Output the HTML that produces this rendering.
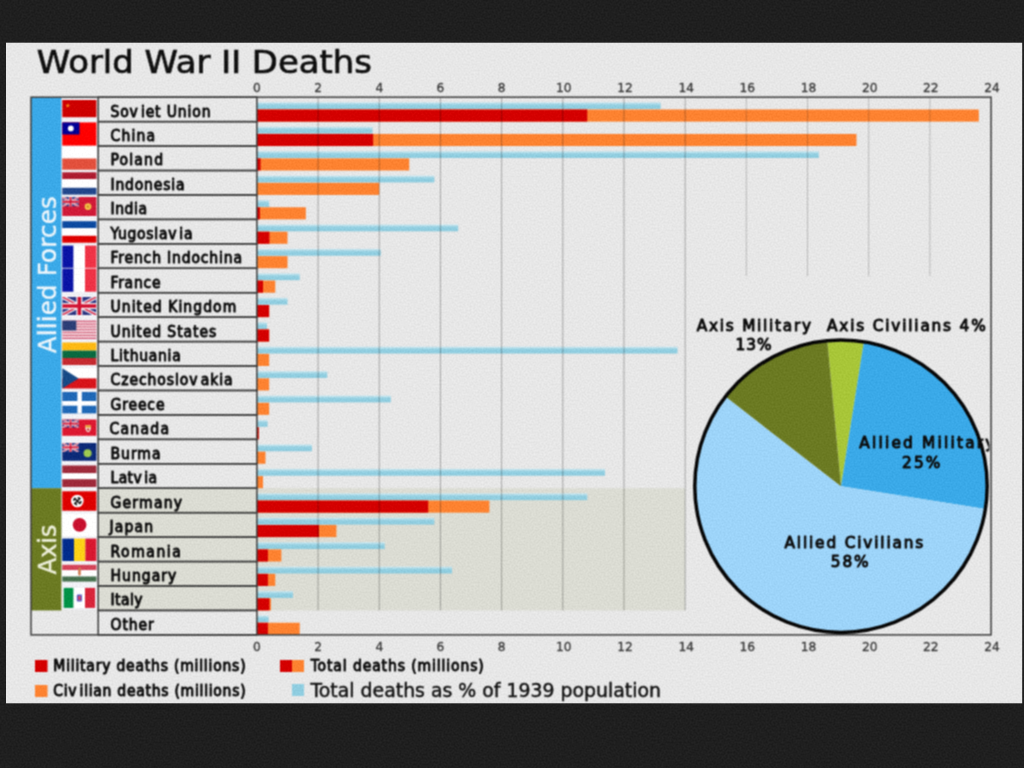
<!DOCTYPE html>
<html lang="en"><head><meta charset="utf-8"><title>World War II Deaths</title>
<style>
html,body{margin:0;padding:0;background:#1f1f1f;width:1024px;height:768px;overflow:hidden}
svg{display:block}
text{font-family:"DejaVu Sans","Liberation Sans",sans-serif}
.lab,.leg,.pie{font-family:"DejaVu Sans Condensed","DejaVu Sans","Liberation Sans",sans-serif;font-stretch:condensed;font-size:15.5px;fill:#0c0c0c;stroke:#0c0c0c;stroke-width:.95px;stroke-linejoin:round}
.tick{font-size:12.2px;fill:#383838;stroke:#383838;stroke-width:.3px;text-anchor:middle}
.pie{font-family:"DejaVu Sans","Liberation Sans",sans-serif;font-stretch:normal;font-size:15.3px;stroke-width:1px}
</style></head><body>
<svg width="1024" height="768" viewBox="0 0 1024 768">
<defs><linearGradient id="pg" x1="0" y1="0" x2="0" y2="1"><stop offset="0" stop-color="#cfe8f0"/><stop offset=".42" stop-color="#93cfe1"/><stop offset="1" stop-color="#8ccbde"/></linearGradient><filter id="bl" color-interpolation-filters="sRGB" x="-2%" y="-2%" width="104%" height="104%"><feConvolveMatrix order="3" kernelMatrix="1 2 1 2 4 2 1 2 1" divisor="16" edgeMode="duplicate" preserveAlpha="false"/></filter></defs>
<filter id="nz" color-interpolation-filters="sRGB" x="0" y="0" width="100%" height="100%"><feTurbulence type="fractalNoise" baseFrequency="0.5" numOctaves="2" seed="7" result="t"/><feColorMatrix in="t" type="matrix" values="1 0 0 0 0 1 0 0 0 0 1 0 0 0 0 0 0 0 0 1" result="g"/><feComposite in="SourceGraphic" in2="g" operator="arithmetic" k1="0" k2="1" k3="0.07" k4="-0.035"/></filter>
<g filter="url(#nz)">
<rect x="0" y="0" width="1024" height="768" fill="#1f1f1f"/>
<rect x="6" y="42.7" width="1016.2" height="660.6" fill="#e7e7e7"/>
<g filter="url(#bl)">
<text x="36.8" y="72.5" font-size="32.2" fill="#0e0e0e" stroke="#0e0e0e" stroke-width=".7" textLength="335" lengthAdjust="spacingAndGlyphs">World War II Deaths</text>
<rect x="256.9" y="488.24" width="428.26" height="122.2" fill="#dbdcd3"/>
<rect x="98" y="488.24" width="158.9" height="122.2" fill="#dbdcd3"/>
<rect x="31" y="97.2" width="30.5" height="391.04" fill="#3aa9e8"/>
<rect x="31" y="488.24" width="30.5" height="122.2" fill="#6b7a22"/>
<text transform="translate(55.7,353.3) rotate(-90)" font-size="24.5" fill="#eef6fb" stroke="#eef6fb" stroke-width=".4" textLength="157" lengthAdjust="spacing">Allied Forces</text>
<text transform="translate(55.6,574.5) rotate(-90)" font-size="24.5" fill="#eef0dc" stroke="#eef0dc" stroke-width=".4" textLength="50" lengthAdjust="spacing">Axis</text>
<rect x="256.9" y="102.2" width="403.79" height="6.9" fill="url(#pg)"/>
<rect x="256.9" y="109.5" width="721.92" height="12.1" fill="#fd8230"/>
<rect x="256.9" y="109.5" width="330.37" height="12.1" fill="#d40000"/>
<rect x="256.9" y="126.64" width="115.63" height="6.9" fill="url(#pg)"/>
<rect x="256.9" y="133.94" width="599.56" height="12.1" fill="#fd8230"/>
<rect x="256.9" y="133.94" width="116.24" height="12.1" fill="#d40000"/>
<rect x="256.9" y="151.08" width="561.94" height="6.9" fill="url(#pg)"/>
<rect x="256.9" y="158.38" width="152.34" height="12.1" fill="#fd8230"/>
<rect x="256.9" y="158.38" width="3.67" height="12.1" fill="#d40000"/>
<rect x="256.9" y="175.52" width="177.42" height="6.9" fill="url(#pg)"/>
<rect x="256.9" y="182.82" width="122.36" height="12.1" fill="#fd8230"/>
<rect x="256.9" y="199.96" width="12.24" height="6.9" fill="url(#pg)"/>
<rect x="256.9" y="207.26" width="48.94" height="12.1" fill="#fd8230"/>
<rect x="256.9" y="207.26" width="3.06" height="12.1" fill="#d40000"/>
<rect x="256.9" y="224.4" width="201.28" height="6.9" fill="url(#pg)"/>
<rect x="256.9" y="231.7" width="30.59" height="12.1" fill="#fd8230"/>
<rect x="256.9" y="231.7" width="12.54" height="12.1" fill="#d40000"/>
<rect x="256.9" y="248.84" width="123.89" height="6.9" fill="url(#pg)"/>
<rect x="256.9" y="256.14" width="30.59" height="12.1" fill="#fd8230"/>
<rect x="256.9" y="273.28" width="42.83" height="6.9" fill="url(#pg)"/>
<rect x="256.9" y="280.58" width="18.35" height="12.1" fill="#fd8230"/>
<rect x="256.9" y="280.58" width="6.12" height="12.1" fill="#d40000"/>
<rect x="256.9" y="297.72" width="30.59" height="6.9" fill="url(#pg)"/>
<rect x="256.9" y="305.02" width="12.24" height="12.1" fill="#fd8230"/>
<rect x="256.9" y="305.02" width="12.24" height="12.1" fill="#d40000"/>
<rect x="256.9" y="322.16" width="10.09" height="6.9" fill="url(#pg)"/>
<rect x="256.9" y="329.46" width="12.24" height="12.1" fill="#fd8230"/>
<rect x="256.9" y="329.46" width="12.24" height="12.1" fill="#d40000"/>
<rect x="256.9" y="346.6" width="420.61" height="6.9" fill="url(#pg)"/>
<rect x="256.9" y="353.9" width="12.24" height="12.1" fill="#fd8230"/>
<rect x="256.9" y="371.04" width="70.36" height="6.9" fill="url(#pg)"/>
<rect x="256.9" y="378.34" width="12.24" height="12.1" fill="#fd8230"/>
<rect x="256.9" y="395.48" width="133.98" height="6.9" fill="url(#pg)"/>
<rect x="256.9" y="402.78" width="12.24" height="12.1" fill="#fd8230"/>
<rect x="256.9" y="419.92" width="10.71" height="6.9" fill="url(#pg)"/>
<rect x="256.9" y="427.22" width="1.84" height="12.1" fill="#fd8230"/>
<rect x="256.9" y="427.22" width="1.84" height="12.1" fill="#d40000"/>
<rect x="256.9" y="444.36" width="55.06" height="6.9" fill="url(#pg)"/>
<rect x="256.9" y="451.66" width="8.57" height="12.1" fill="#fd8230"/>
<rect x="256.9" y="468.8" width="348.11" height="6.9" fill="url(#pg)"/>
<rect x="256.9" y="476.1" width="6.12" height="12.1" fill="#fd8230"/>
<rect x="256.9" y="493.24" width="330.37" height="6.9" fill="url(#pg)"/>
<rect x="256.9" y="500.54" width="232.48" height="12.1" fill="#fd8230"/>
<rect x="256.9" y="500.54" width="171.3" height="12.1" fill="#d40000"/>
<rect x="256.9" y="517.68" width="177.42" height="6.9" fill="url(#pg)"/>
<rect x="256.9" y="524.98" width="79.53" height="12.1" fill="#fd8230"/>
<rect x="256.9" y="524.98" width="62.1" height="12.1" fill="#d40000"/>
<rect x="256.9" y="542.12" width="127.87" height="6.9" fill="url(#pg)"/>
<rect x="256.9" y="549.42" width="24.47" height="12.1" fill="#fd8230"/>
<rect x="256.9" y="549.42" width="11.01" height="12.1" fill="#d40000"/>
<rect x="256.9" y="566.56" width="195.16" height="6.9" fill="url(#pg)"/>
<rect x="256.9" y="573.86" width="18.35" height="12.1" fill="#fd8230"/>
<rect x="256.9" y="573.86" width="11.01" height="12.1" fill="#d40000"/>
<rect x="256.9" y="591" width="36.1" height="6.9" fill="url(#pg)"/>
<rect x="256.9" y="598.3" width="14.07" height="12.1" fill="#fd8230"/>
<rect x="256.9" y="598.3" width="12.54" height="12.1" fill="#d40000"/>
<rect x="256.9" y="615.44" width="11.62" height="6.9" fill="url(#pg)"/>
<rect x="256.9" y="622.74" width="42.83" height="12.1" fill="#fd8230"/>
<rect x="256.9" y="622.74" width="11.01" height="12.1" fill="#d40000"/>
<line x1="318.08" y1="97.2" x2="318.08" y2="610.44" stroke="#000" stroke-opacity=".29" stroke-width="1"/>
<line x1="379.26" y1="97.2" x2="379.26" y2="610.44" stroke="#000" stroke-opacity=".29" stroke-width="1"/>
<line x1="440.44" y1="97.2" x2="440.44" y2="610.44" stroke="#000" stroke-opacity=".29" stroke-width="1"/>
<line x1="501.62" y1="97.2" x2="501.62" y2="610.44" stroke="#000" stroke-opacity=".29" stroke-width="1"/>
<line x1="562.8" y1="97.2" x2="562.8" y2="610.44" stroke="#000" stroke-opacity=".29" stroke-width="1"/>
<line x1="623.98" y1="97.2" x2="623.98" y2="610.44" stroke="#000" stroke-opacity=".29" stroke-width="1"/>
<line x1="685.16" y1="97.2" x2="685.16" y2="610.44" stroke="#000" stroke-opacity=".29" stroke-width="1"/>
<line x1="746.34" y1="97.2" x2="746.34" y2="276" stroke="#000" stroke-opacity=".2" stroke-width="1"/>
<line x1="807.52" y1="97.2" x2="807.52" y2="276" stroke="#000" stroke-opacity=".2" stroke-width="1"/>
<line x1="868.7" y1="97.2" x2="868.7" y2="276" stroke="#000" stroke-opacity=".2" stroke-width="1"/>
<line x1="929.88" y1="97.2" x2="929.88" y2="276" stroke="#000" stroke-opacity=".2" stroke-width="1"/>
<rect x="98.2" y="97.2" width="158.7" height="24.44" fill="none" stroke="#3c3c3c" stroke-width="1.5"/>
<text class="lab" x="110.5" y="116.6" textLength="100" lengthAdjust="spacing">Sov<tspan dx="2.2">iet</tspan> Union</text>
<rect x="98.2" y="121.64" width="158.7" height="24.44" fill="none" stroke="#3c3c3c" stroke-width="1.5"/>
<text class="lab" x="110.5" y="141.04" textLength="44.5" lengthAdjust="spacing">China</text>
<rect x="98.2" y="146.08" width="158.7" height="24.44" fill="none" stroke="#3c3c3c" stroke-width="1.5"/>
<text class="lab" x="110.5" y="165.48" textLength="52.5" lengthAdjust="spacing">Poland</text>
<rect x="98.2" y="170.52" width="158.7" height="24.44" fill="none" stroke="#3c3c3c" stroke-width="1.5"/>
<text class="lab" x="110.5" y="189.92" textLength="74" lengthAdjust="spacing">Indonesia</text>
<rect x="98.2" y="194.96" width="158.7" height="24.44" fill="none" stroke="#3c3c3c" stroke-width="1.5"/>
<text class="lab" x="110.5" y="214.36" textLength="36.5" lengthAdjust="spacing">India</text>
<rect x="98.2" y="219.4" width="158.7" height="24.44" fill="none" stroke="#3c3c3c" stroke-width="1.5"/>
<text class="lab" x="110.5" y="238.8" textLength="82" lengthAdjust="spacing">Yugoslav<tspan dx="2.2">ia</tspan></text>
<rect x="98.2" y="243.84" width="158.7" height="24.44" fill="none" stroke="#3c3c3c" stroke-width="1.5"/>
<text class="lab" x="110.5" y="263.24" textLength="131.5" lengthAdjust="spacing">French Indochina</text>
<rect x="98.2" y="268.28" width="158.7" height="24.44" fill="none" stroke="#3c3c3c" stroke-width="1.5"/>
<text class="lab" x="110.5" y="287.68" textLength="50" lengthAdjust="spacing">France</text>
<rect x="98.2" y="292.72" width="158.7" height="24.44" fill="none" stroke="#3c3c3c" stroke-width="1.5"/>
<text class="lab" x="110.5" y="312.12" textLength="125.75" lengthAdjust="spacing">United Kingdom</text>
<rect x="98.2" y="317.16" width="158.7" height="24.44" fill="none" stroke="#3c3c3c" stroke-width="1.5"/>
<text class="lab" x="110.5" y="336.56" textLength="105.75" lengthAdjust="spacing">United States</text>
<rect x="98.2" y="341.6" width="158.7" height="24.44" fill="none" stroke="#3c3c3c" stroke-width="1.5"/>
<text class="lab" x="110.5" y="361" textLength="70.25" lengthAdjust="spacing">Lithuania</text>
<rect x="98.2" y="366.04" width="158.7" height="24.44" fill="none" stroke="#3c3c3c" stroke-width="1.5"/>
<text class="lab" x="110.5" y="385.44" textLength="122" lengthAdjust="spacing">Czechoslov<tspan dx="2.4">akia</tspan></text>
<rect x="98.2" y="390.48" width="158.7" height="24.44" fill="none" stroke="#3c3c3c" stroke-width="1.5"/>
<text class="lab" x="110.5" y="409.88" textLength="54" lengthAdjust="spacing">Greece</text>
<rect x="98.2" y="414.92" width="158.7" height="24.44" fill="none" stroke="#3c3c3c" stroke-width="1.5"/>
<text class="lab" x="109.5" y="434.32" textLength="59.5" lengthAdjust="spacing">Canada</text>
<rect x="98.2" y="439.36" width="158.7" height="24.44" fill="none" stroke="#3c3c3c" stroke-width="1.5"/>
<text class="lab" x="110.5" y="458.76" textLength="50" lengthAdjust="spacing">Burma</text>
<rect x="98.2" y="463.8" width="158.7" height="24.44" fill="none" stroke="#3c3c3c" stroke-width="1.5"/>
<text class="lab" x="110.5" y="483.2" textLength="46.5" lengthAdjust="spacing">Latv<tspan dx="2.2">ia</tspan></text>
<rect x="98.2" y="488.24" width="158.7" height="24.44" fill="none" stroke="#3c3c3c" stroke-width="1.5"/>
<text class="lab" x="110.5" y="507.64" textLength="71.5" lengthAdjust="spacing">Germany</text>
<rect x="98.2" y="512.68" width="158.7" height="24.44" fill="none" stroke="#3c3c3c" stroke-width="1.5"/>
<text class="lab" x="109.5" y="532.08" textLength="43.5" lengthAdjust="spacing">Japan</text>
<rect x="98.2" y="537.12" width="158.7" height="24.44" fill="none" stroke="#3c3c3c" stroke-width="1.5"/>
<text class="lab" x="110.5" y="556.52" textLength="70.25" lengthAdjust="spacing">Romania</text>
<rect x="98.2" y="561.56" width="158.7" height="24.44" fill="none" stroke="#3c3c3c" stroke-width="1.5"/>
<text class="lab" x="110.5" y="580.96" textLength="65.75" lengthAdjust="spacing">Hungary</text>
<rect x="98.2" y="586" width="158.7" height="24.44" fill="none" stroke="#3c3c3c" stroke-width="1.5"/>
<text class="lab" x="110.5" y="605.4" textLength="32" lengthAdjust="spacing">Italy</text>
<rect x="98.2" y="610.44" width="158.7" height="24.44" fill="none" stroke="#3c3c3c" stroke-width="1.5"/>
<text class="lab" x="110.5" y="629.84" textLength="43.25" lengthAdjust="spacing">Other</text>
<rect x="31" y="97.2" width="960.06" height="537.68" fill="none" stroke="#3c3c3c" stroke-width="1.5"/>
<text class="tick" x="256.9" y="92.4">0</text>
<text class="tick" x="256.9" y="651.2">0</text>
<text class="tick" x="318.08" y="92.4">2</text>
<text class="tick" x="318.08" y="651.2">2</text>
<text class="tick" x="379.26" y="92.4">4</text>
<text class="tick" x="379.26" y="651.2">4</text>
<text class="tick" x="440.44" y="92.4">6</text>
<text class="tick" x="440.44" y="651.2">6</text>
<text class="tick" x="501.62" y="92.4">8</text>
<text class="tick" x="501.62" y="651.2">8</text>
<text class="tick" x="563.8" y="92.4">10</text>
<text class="tick" x="563.8" y="651.2">10</text>
<text class="tick" x="624.98" y="92.4">12</text>
<text class="tick" x="624.98" y="651.2">12</text>
<text class="tick" x="686.16" y="92.4">14</text>
<text class="tick" x="686.16" y="651.2">14</text>
<text class="tick" x="747.34" y="92.4">16</text>
<text class="tick" x="747.34" y="651.2">16</text>
<text class="tick" x="808.52" y="92.4">18</text>
<text class="tick" x="808.52" y="651.2">18</text>
<text class="tick" x="869.7" y="92.4">20</text>
<text class="tick" x="869.7" y="651.2">20</text>
<text class="tick" x="930.88" y="92.4">22</text>
<text class="tick" x="930.88" y="651.2">22</text>
<text class="tick" x="992.06" y="92.4">24</text>
<text class="tick" x="992.06" y="651.2">24</text>
<rect x="35" y="660" width="12.5" height="12" fill="#d40000"/>
<text class="leg" x="53.3" y="671.3" textLength="192.3" lengthAdjust="spacing">Military deaths (millions)</text>
<rect x="35" y="685" width="12.5" height="12" fill="#fd8230"/>
<text class="leg" x="53.3" y="696.3" textLength="192.3" lengthAdjust="spacing">Civ<tspan dx="2.2">ilian deaths (millions)</tspan></text>
<rect x="280" y="660" width="12" height="12" fill="#d40000"/><rect x="292" y="660" width="12" height="12" fill="#fd8230"/>
<text class="leg" x="310.8" y="671.3" textLength="173" lengthAdjust="spacing">Total deaths (millions)</text>
<rect x="292" y="684" width="12" height="12" fill="#8fcde0"/>
<text x="310.5" y="697" font-size="18.9" fill="#101010" stroke="#101010" stroke-width=".45" textLength="350.5" lengthAdjust="spacing">Total deaths as % of 1939 population</text>
<path d="M841 486.2L827.2 340.6A146.2 146.2 0 0 1 863.9 341.8Z" fill="#a8c638"/>
<path d="M841 486.2L863.9 341.8A146.2 146.2 0 0 1 985.4 509.1Z" fill="#3aa9e8"/>
<path d="M841 486.2L985.4 509.1A146.2 146.2 0 1 1 725.5 396.6Z" fill="#9dd4f9"/>
<path d="M841 486.2L725.5 396.6A146.2 146.2 0 0 1 827.2 340.6Z" fill="#6b7a22"/>
<circle cx="841" cy="486.2" r="146.2" fill="none" stroke="#060606" stroke-width="3.5"/>
<text class="pie" x="696.8" y="330.6" textLength="114.2" lengthAdjust="spacing">Axis Military</text>
<text class="pie" x="735.5" y="349.5" textLength="36" lengthAdjust="spacing">13%</text>
<text class="pie" x="827" y="330.6" textLength="158.7" lengthAdjust="spacing">Axis Civilians 4%</text>
<clipPath id="pc"><rect x="700" y="420" width="289.3" height="60"/></clipPath>
<text class="pie" x="859.3" y="448.3" textLength="135" lengthAdjust="spacing" clip-path="url(#pc)">Allied Military</text>
<text class="pie" x="902" y="468.4" textLength="38.4" lengthAdjust="spacing">25%</text>
<text class="pie" x="784.5" y="547.6" textLength="138.8" lengthAdjust="spacing">Allied Civilians</text>
<text class="pie" x="830.8" y="567" textLength="37.7" lengthAdjust="spacing">58%</text>
<rect x="61.7" y="98" width="35.1" height="511.5" fill="#f1f1f5"/>
<rect x="62.3" y="100" width="34.1" height="17.2" fill="#cd0000"/>
<circle cx="67.8" cy="105.6" r="1.7" fill="#f07810"/>
<rect x="62.3" y="122.4" width="34.1" height="23.2" fill="#fe0000"/>
<rect x="62.3" y="122.4" width="17.2" height="12.1" fill="#000095"/>
<circle cx="70.8" cy="128.4" r="2.9" fill="#ffffff"/>
<rect x="62.3" y="146.6" width="34.1" height="11.9" fill="#ffffff"/><rect x="62.3" y="158.5" width="34.1" height="11.2" fill="#e2503c"/>
<rect x="62.3" y="172.3" width="34.1" height="6.9" fill="#ae1c30"/><rect x="62.3" y="179.2" width="34.1" height="8.6" fill="#ffffff"/><rect x="62.3" y="187.8" width="34.1" height="6.8" fill="#21468b"/>
<rect x="62.3" y="197" width="34.1" height="19" fill="#d01a38"/>
<g clip-path="url(#c1970)"><clipPath id="c1970"><rect x="62.3" y="197" width="16.5" height="9.5"/></clipPath><rect x="62.3" y="197" width="16.5" height="9.5" fill="#2b3580"/><path d="M62.3 197L78.8 206.5M78.8 197L62.3 206.5" stroke="#f4f0f4" stroke-width="2.09"/><path d="M62.3 197L78.8 206.5M78.8 197L62.3 206.5" stroke="#d02040" stroke-width="0.76"/><path d="M70.55 197V206.5M62.3 201.75H78.8" stroke="#f8f4f6" stroke-width="3.23"/><path d="M70.55 197V206.5M62.3 201.75H78.8" stroke="#d01030" stroke-width="1.9"/></g>
<circle cx="88" cy="206.6" r="3.4" fill="#f2c64a"/><circle cx="88" cy="206.6" r="1.5" fill="#d8902a"/>
<rect x="62.3" y="221.2" width="34.1" height="7" fill="#0c4aa0"/><rect x="62.3" y="228.2" width="34.1" height="7.6" fill="#ffffff"/><rect x="62.3" y="235.8" width="34.1" height="6.9" fill="#de0000"/>
<rect x="62.3" y="245.6" width="11.3" height="22.2" fill="#0a14a6"/><rect x="73.6" y="245.6" width="11.4" height="22.2" fill="#ffffff"/><rect x="85" y="245.6" width="11.4" height="22.2" fill="#ef3346"/>
<rect x="62.3" y="268.6" width="11.3" height="23.1" fill="#0a14a6"/><rect x="73.6" y="268.6" width="11.4" height="23.1" fill="#ffffff"/><rect x="85" y="268.6" width="11.4" height="23.1" fill="#ef3346"/>
<g clip-path="url(#c2969)"><clipPath id="c2969"><rect x="62.3" y="296.9" width="34.1" height="18.1"/></clipPath><rect x="62.3" y="296.9" width="34.1" height="18.1" fill="#2b3580"/><path d="M62.3 296.9L96.4 315M96.4 296.9L62.3 315" stroke="#f4f0f4" stroke-width="3.98"/><path d="M62.3 296.9L96.4 315M96.4 296.9L62.3 315" stroke="#d02040" stroke-width="1.45"/><path d="M79.35 296.9V315M62.3 305.95H96.4" stroke="#f8f4f6" stroke-width="6.15"/><path d="M79.35 296.9V315M62.3 305.95H96.4" stroke="#d01030" stroke-width="3.62"/></g>
<rect x="62.3" y="320.6" width="34.1" height="1.47" fill="#d4607a"/><rect x="62.3" y="322.02" width="34.1" height="1.47" fill="#f6dfe4"/><rect x="62.3" y="323.43" width="34.1" height="1.47" fill="#d4607a"/><rect x="62.3" y="324.85" width="34.1" height="1.47" fill="#f6dfe4"/><rect x="62.3" y="326.26" width="34.1" height="1.47" fill="#d4607a"/><rect x="62.3" y="327.68" width="34.1" height="1.47" fill="#f6dfe4"/><rect x="62.3" y="329.09" width="34.1" height="1.47" fill="#d4607a"/><rect x="62.3" y="330.51" width="34.1" height="1.47" fill="#f6dfe4"/><rect x="62.3" y="331.92" width="34.1" height="1.47" fill="#d4607a"/><rect x="62.3" y="333.34" width="34.1" height="1.47" fill="#f6dfe4"/><rect x="62.3" y="334.75" width="34.1" height="1.47" fill="#d4607a"/><rect x="62.3" y="336.17" width="34.1" height="1.47" fill="#f6dfe4"/><rect x="62.3" y="337.58" width="34.1" height="1.47" fill="#d4607a"/>
<rect x="62.3" y="320.6" width="14" height="9.9" fill="#2c3e76"/>
<rect x="62.3" y="342.5" width="34.1" height="8.1" fill="#fdb913"/><rect x="62.3" y="350.6" width="34.1" height="7.4" fill="#0a6a40"/><rect x="62.3" y="358" width="34.1" height="7" fill="#c52a30"/>
<rect x="62.3" y="368.3" width="34.1" height="10.1" fill="#ffffff"/><rect x="62.3" y="378.4" width="34.1" height="10.1" fill="#d7141a"/>
<path d="M62.3 368.3L78.6 378.4L62.3 388.5Z" fill="#174a86"/>
<rect x="62.3" y="392" width="34.1" height="21.4" fill="#1f68b6"/>
<rect x="77.4" y="392" width="4.4" height="21.4" fill="#ffffff"/><rect x="62.3" y="401" width="34.1" height="4.7" fill="#ffffff"/>
<rect x="62.3" y="419.5" width="34.1" height="16.3" fill="#dc1830"/>
<g clip-path="url(#c4195)"><clipPath id="c4195"><rect x="62.3" y="419.5" width="16.5" height="8.2"/></clipPath><rect x="62.3" y="419.5" width="16.5" height="8.2" fill="#2b3580"/><path d="M62.3 419.5L78.8 427.7M78.8 419.5L62.3 427.7" stroke="#f4f0f4" stroke-width="1.8"/><path d="M62.3 419.5L78.8 427.7M78.8 419.5L62.3 427.7" stroke="#d02040" stroke-width="0.66"/><path d="M70.55 419.5V427.7M62.3 423.6H78.8" stroke="#f8f4f6" stroke-width="2.79"/><path d="M70.55 419.5V427.7M62.3 423.6H78.8" stroke="#d01030" stroke-width="1.64"/></g>
<path d="M85.4 425.2h5.4v3.4q0 2.6 -2.7 3.6q-2.7 -1 -2.7 -3.6z" fill="#f4efe6"/><rect x="85.4" y="425.2" width="5.4" height="2.4" fill="#e8a030"/><circle cx="88.1" cy="429.6" r="1.2" fill="#c82020"/>
<rect x="62.3" y="443" width="34.1" height="17.8" fill="#0c2a78"/>
<g clip-path="url(#c4430)"><clipPath id="c4430"><rect x="62.3" y="443" width="16.5" height="8.9"/></clipPath><rect x="62.3" y="443" width="16.5" height="8.9" fill="#2b3580"/><path d="M62.3 443L78.8 451.9M78.8 443L62.3 451.9" stroke="#f4f0f4" stroke-width="1.96"/><path d="M62.3 443L78.8 451.9M78.8 443L62.3 451.9" stroke="#d02040" stroke-width="0.71"/><path d="M70.55 443V451.9M62.3 447.45H78.8" stroke="#f8f4f6" stroke-width="3.03"/><path d="M70.55 443V451.9M62.3 447.45H78.8" stroke="#d01030" stroke-width="1.78"/></g>
<circle cx="87.6" cy="453.2" r="4" fill="#9cc850"/>
<rect x="62.3" y="465.5" width="34.1" height="7.8" fill="#9e2a3a"/><rect x="62.3" y="473.3" width="34.1" height="5.9" fill="#ffffff"/><rect x="62.3" y="479.2" width="34.1" height="7.8" fill="#9e2a3a"/>
<rect x="62.3" y="491.3" width="34.1" height="19.4" fill="#de0000"/>
<circle cx="77.3" cy="501" r="6.3" fill="#ffffff"/>
<circle cx="77.3" cy="501" r="3.6" fill="none" stroke="#111" stroke-width="1.6" stroke-dasharray="3.2 2.45"/><path d="M74.6 498.3L80 503.7M80 498.3L74.6 503.7" stroke="#111" stroke-width="1.5"/>
<rect x="62.3" y="513.6" width="34.1" height="22.4" fill="#ffffff"/>
<circle cx="79.6" cy="524.8" r="6.9" fill="#c8102e"/>
<rect x="62.3" y="538.6" width="11.7" height="22.4" fill="#002b8c"/><rect x="74" y="538.6" width="11.4" height="22.4" fill="#fcd116"/><rect x="85.4" y="538.6" width="11" height="22.4" fill="#d81830"/>
<rect x="62.3" y="564.8" width="34.1" height="5.4" fill="#d44458"/><rect x="62.3" y="570.2" width="34.1" height="6.3" fill="#ffffff"/><rect x="62.3" y="576.5" width="34.1" height="5.1" fill="#46704e"/>
<rect x="78.2" y="567.5" width="2.6" height="8" rx="1" fill="#d07a50"/>
<rect x="63.7" y="587.9" width="9.9" height="20" fill="#009246"/><rect x="73.6" y="587.9" width="11.4" height="20" fill="#ffffff"/><rect x="85" y="587.9" width="10.1" height="20" fill="#d8243a"/>
<rect x="76.8" y="594.6" width="5.2" height="6.8" rx="1" fill="#5a5ac0"/><rect x="78.2" y="596" width="2.4" height="4" fill="#e04060"/>
</g>
</g>
</svg>
</body></html>
